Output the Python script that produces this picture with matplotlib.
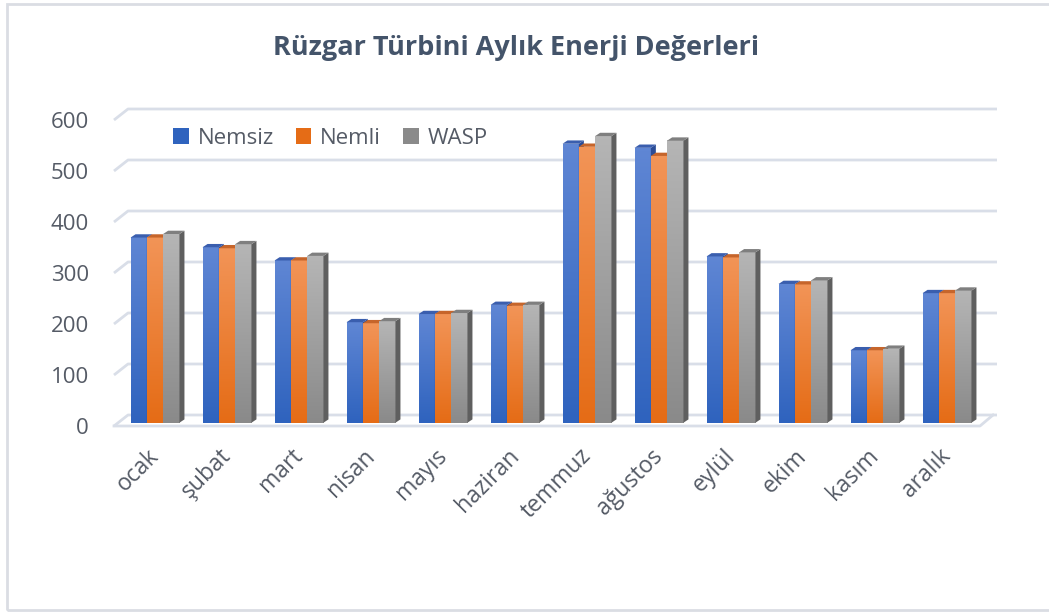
import matplotlib
matplotlib.use('Agg')
import matplotlib.pyplot as plt
import numpy as np
from matplotlib.patches import Polygon, Rectangle
from matplotlib.colors import LinearSegmentedColormap
from matplotlib.transforms import ScaledTranslation

months = ['ocak', 'şubat', 'mart', 'nisan', 'mayıs', 'haziran',
          'temmuz', 'ağustos', 'eylül', 'ekim', 'kasım', 'aralık']
nemsiz = [363, 344, 318, 197, 213, 231, 547, 539, 326, 272, 142, 254]
nemli = [363, 342, 318, 195, 213, 229, 541, 523, 324, 271, 142, 254]
wasp = [370, 350, 327, 199, 215, 231, 562, 553, 334, 279, 145, 259]
series_names = ['Nemsiz', 'Nemli', 'WASP']
yticks = [0, 100, 200, 300, 400, 500, 600]

plt.rcParams['font.family'] = ['Open Sans', 'DejaVu Sans']

W, H = 1049, 612
fig = plt.figure(figsize=(W / 100, H / 100), dpi=100)

# pixel helpers (front plane: first month at px 155, 72 px per month; 0 at py 426, 0.51 px per unit)
def dx(px):
    return (px - 155) / 72.0

def dy(py):
    return (426 - py) / 0.51

ax = fig.add_axes([100 / W, (H - 440) / H, 910 / W, 345 / H])
ax.set_facecolor('none')

grid_c = '#D9DEE8'
back_dy = 11 / 0.51
for v in yticks:
    ax.plot([dx(114), dx(128), dx(997)], [v, v + back_dy, v + back_dy],
            color=grid_c, lw=2, zorder=1, solid_capstyle='butt')
ax.plot([dx(114), dx(980), dx(993)], [0, 0, back_dy], color=grid_c, lw=2, zorder=1)

# colours: (front top, front bottom, side, top)
styles = [('#5F86D4', '#2F63BE', '#2A4C96', '#3A5EAE'),
          ('#F29457', '#E56C16', '#B35414', '#C6652B'),
          ('#B5B5B5', '#8A8A8A', '#5F5F5F', '#7F7F7F')]

bw = 16.3 / 72
ddx = 5 / 72
ddy = 3.3 / 0.51
base = dy(422.7)
grad = np.linspace(0, 1, 64).reshape(-1, 1)

z = 2
for i in range(len(months)):
    for k, vals in enumerate([nemsiz, nemli, wasp]):
        v = vals[i]
        x0 = i + (k - 1.5) * bw
        x1 = x0 + bw
        c_top, c_bot, c_side, c_cap = styles[k]
        cmap = LinearSegmentedColormap.from_list('g', [c_bot, c_top])
        ax.imshow(grad, extent=(x0, x1, base, base + v), origin='lower',
                  aspect='auto', cmap=cmap, zorder=z, interpolation='bilinear')
        ax.add_patch(Polygon([(x1, base), (x1 + ddx, base + ddy),
                              (x1 + ddx, base + v + ddy), (x1, base + v)],
                             closed=True, facecolor=c_side, edgecolor='none', zorder=z))
        ax.add_patch(Polygon([(x0, base + v), (x0 + ddx, base + v + ddy),
                              (x1 + ddx, base + v + ddy), (x1, base + v)],
                             closed=True, facecolor=c_cap, edgecolor='none', zorder=z))
        z += 1

ax.set_xlim(dx(100), dx(1010))
ax.set_ylim(dy(440), dy(95))
for s in ax.spines.values():
    s.set_visible(False)

text_c = '#555B66'
ax.set_yticks(yticks)
ax.set_yticklabels([str(t) for t in yticks], fontsize=16, color=text_c)
ax.tick_params(axis='y', length=0, pad=8)
ax.set_xticks(range(len(months)))
ax.set_xticklabels(months, fontsize=16.5, color=text_c, rotation=45,
                   ha='right', va='top', rotation_mode='anchor')
ax.tick_params(axis='x', length=0, pad=3)
shift = ScaledTranslation(-8 / 100, 0, fig.dpi_scale_trans)
for lab in ax.get_xticklabels():
    lab.set_transform(lab.get_transform() + shift)

# legend
handles = [Rectangle((0, 0), 1, 1, facecolor=styles[k][1]) for k in range(3)]
fig.legend(handles, series_names, loc='center left',
           bbox_to_anchor=(173 / W, 1 - 138 / H), ncol=3, frameon=False,
           fontsize=16, labelcolor=text_c, handlelength=0.7, handleheight=0.7,
           handletextpad=0.4, columnspacing=1.0, borderaxespad=0, borderpad=0)

fig.text(516 / W, 1 - 48 / H, 'Rüzgar Türbini Aylık Enerji Değerleri',
         ha='center', va='center', fontsize=19.5, fontweight='bold', color='#44546A')

fig.add_artist(Rectangle((7 / W, 2 / H), 1.2, 1 - 6 / H, transform=fig.transFigure,
                         fill=False, edgecolor='#DADDE3', lw=2))

fig.savefig('out.png', dpi=100)
